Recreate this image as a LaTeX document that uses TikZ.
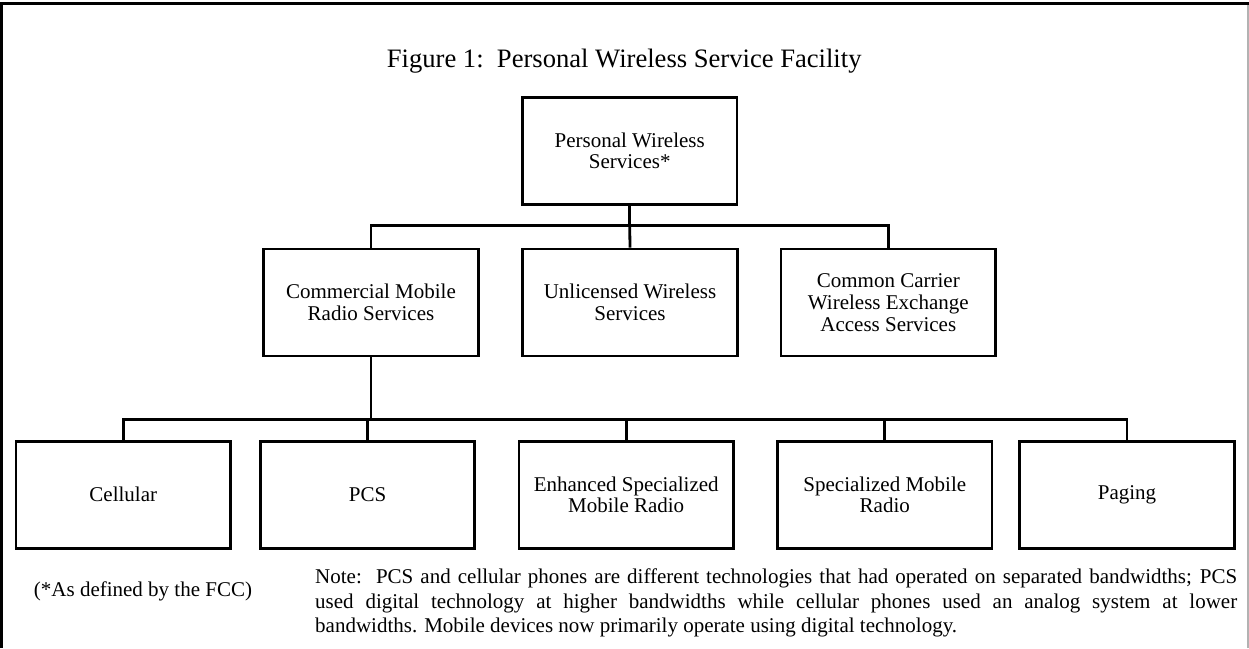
\documentclass[tikz,border=0pt]{standalone}
\usepackage{fontspec}
\setmainfont{Liberation Serif}
\begin{document}
\begin{tikzpicture}[x=1pt,y=-1pt,
  svcbox/.style={draw=black, line width=2.8pt, minimum width=214.5pt, minimum height=107pt,
    align=center, inner sep=0pt, font=\fontsize{21}{21.7}\selectfont},
  link/.style={draw=black, line width=2.8pt},
  plain/.style={inner sep=0pt, font=\fontsize{21}{24.2}\selectfont}]
\useasboundingbox (0,0) rectangle (1249,648);
% page frame
\draw[line width=2.6pt] (1.8,648) -- (1.8,3.6) -- (1249,3.6);
\draw[line width=1.2pt, black!30] (1247.9,5) -- (1247.9,648);

% title
\node[plain, anchor=base, font=\fontsize{26.6}{30}\selectfont] (title) at (624.2,67) {Figure 1:\ \ Personal Wireless Service Facility};

% top level
\node[svcbox] (pws) at (629.7,150.8) {Personal Wireless\\Services*};

% second level
\node[svcbox] (cmrs) at (371,302.5) {Commercial Mobile\\Radio Services};
\node[svcbox] (ulw)  at (630,302.5) {Unlicensed Wireless\\Services};
\node[svcbox] (ccw)  at (888.3,302.5) {Common Carrier\\Wireless Exchange\\Access Services};

% third level
\node[svcbox] (cell) at (123.3,494.7) {Cellular};
\node[svcbox] (pcs)  at (367.6,494.7) {PCS};
\node[svcbox] (esmr) at (626.2,494.7) {Enhanced Specialized\\Mobile Radio};
\node[svcbox] (smr)  at (884.8,494.7) {Specialized Mobile\\Radio};
\node[svcbox] (pag)  at (1127,494.7) {Paging};

% connectors, upper tier
\coordinate (busA) at (629.7,225.7);
\draw[link] (pws.south) -- (busA);
\draw[link] (cmrs.north) |- (busA) -| (ccw.north);
\draw[link] (busA) -- (ulw.north);

% connectors, lower tier
\coordinate (busB) at (371,419.3);
\draw[link] (cmrs.south) -- (busB);
\draw[link] (cell.north) |- (busB) -| (pag.north);
\draw[link] (pcs.north) -- (pcs.north |- busB);
\draw[link] (esmr.north) -- (esmr.north |- busB);
\draw[link] (smr.north) -- (smr.north |- busB);

% footnotes
\node[plain, anchor=base] (fcc) at (143,596.7) {(*As defined by the FCC)};
\node[plain, anchor=north west, text width=922pt, align=justify] (note) at (315,569) {%
Note:\ \ PCS and cellular phones are different technologies that had operated on separated bandwidths; PCS\linebreak
used digital technology at higher bandwidths while cellular phones used an analog system at lower\linebreak
bandwidths. Mobile devices now primarily operate using digital technology.};
\end{tikzpicture}
\end{document}
